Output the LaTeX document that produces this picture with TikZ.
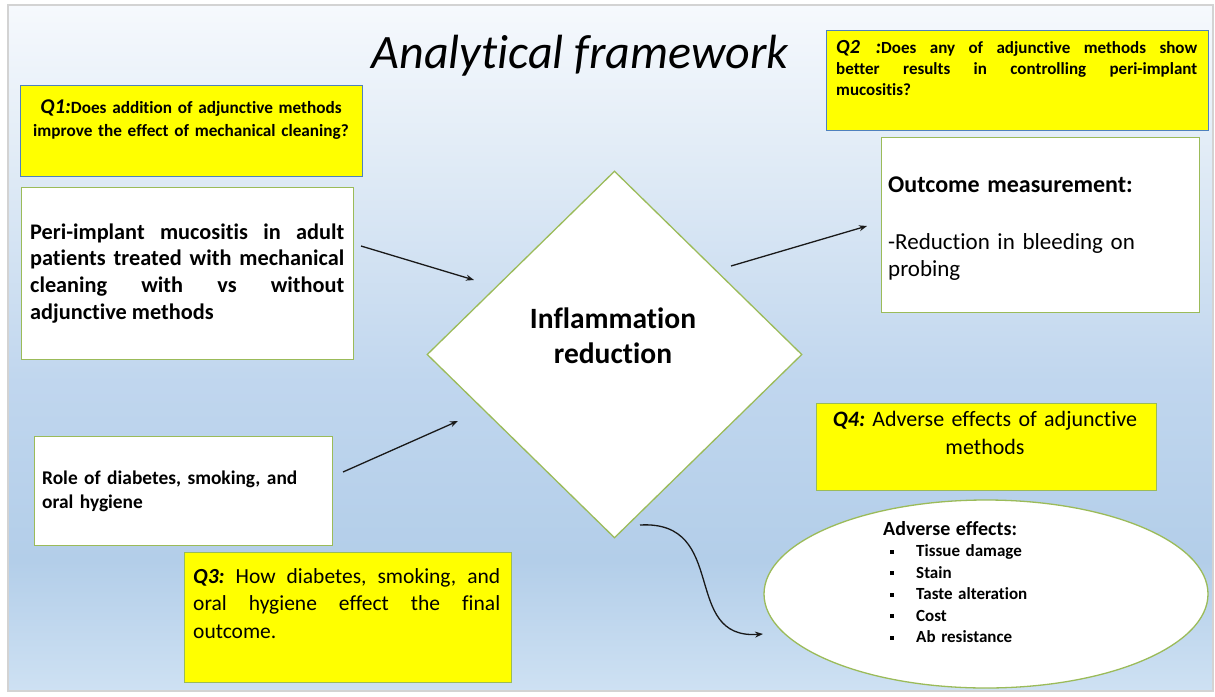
\documentclass[tikz,border=0pt]{standalone}
\usepackage{fontspec}
\setmainfont{Carlito}[RawFeature=-liga, RawFeature=-clig, RawFeature=-calt, RawFeature=-dlig]
\usepackage{tikz}
\usetikzlibrary{shapes.geometric}
\usetikzlibrary{arrows.meta}

\definecolor{qyellow}{HTML}{FFFF00}
\definecolor{qblue}{HTML}{4F81BD}
\definecolor{qgreen}{HTML}{9BBB59}
\definecolor{frameline}{HTML}{D3D3D3}
\definecolor{fadeA}{HTML}{F6F9FD}
\definecolor{fadeB}{HTML}{DDE9F5}
\definecolor{fadeC}{HTML}{C0D6EE}
\definecolor{fadeD}{HTML}{B3CEE9}
\definecolor{fadeE}{HTML}{CEE1F3}

\pgfdeclareverticalshading{panelfade}{100bp}{color(0bp)=(fadeE); color(25bp)=(fadeE); color(34.5bp)=(fadeD); color(47.5bp)=(fadeC); color(62bp)=(fadeB); color(75bp)=(fadeA); color(100bp)=(fadeA)}

\newcommand{\fsz}[2]{\fontsize{#1}{#2}\selectfont}
\newcommand{\sqbul}{\makebox[33pt][l]{\hspace{7pt}\rule[3pt]{4pt}{4pt}}}
\hyphenpenalty=10000
\exhyphenpenalty=10000
\frenchspacing

\tikzset{
  qbox/.style={draw=qblue, fill=qyellow, line width=1.3pt, anchor=north west, inner sep=0pt},
  infobox/.style={draw=qgreen, fill=white, line width=1.3pt, anchor=north west, inner sep=0pt},
  txt/.style={inner sep=0pt, anchor=base west, align=justify},
  arr/.style={line width=1.3pt, draw=black!90, -{Stealth[length=8pt,width=6pt]}}
}

\begin{document}
\begin{tikzpicture}[x=1pt, y=-1pt]
    \useasboundingbox (0,0) rectangle (1215,696);
    \fill[white] (0,0) rectangle (1215,696);
    \shadedraw[shading=panelfade, draw=frameline, line width=2.5pt] (8,5) rectangle (1213,691);

    \node[anchor=base, inner sep=0pt, font=\fsz{48}{50}\itshape] (title) at (580,68) {Analytical framework};

    % question boxes
    \node[qbox, minimum width=342pt, minimum height=91pt] (q1) at (20,85) {};
    \node[txt, text width=336pt, align=center, anchor=base, font=\fsz{17.2}{23}\bfseries] (q1txt) at (191,113)
        {{\fsz{21}{23}\itshape Q1:}Does addition of adjunctive methods\\improve the effect of mechanical cleaning?};
    \node[qbox, minimum width=382pt, minimum height=100pt] (q2) at (826,30) {};
    \node[txt, text width=361pt, font=\fsz{17}{21}\bfseries] (q2txt) at (836,53)
        {{\fsz{20}{21}\itshape Q2 :}Does any of adjunctive methods show\linebreak better results in controlling peri-implant\linebreak mucositis?};
    \node[qbox, draw=qgreen, minimum width=327pt, minimum height=130pt] (q3) at (184,552) {};
    \node[txt, text width=307pt, font=\fsz{21.5}{27.5}] (q3txt) at (193,583)
        {\textbf{\textit{Q3:}} How diabetes, smoking, and\linebreak oral hygiene effect the final\linebreak outcome.};
    \node[qbox, draw=qgreen, minimum width=340pt, minimum height=87pt] (q4) at (816,403) {};
    \node[txt, text width=330pt, align=center, anchor=base, font=\fsz{22}{28}] (q4txt) at (985,426)
        {\textbf{\textit{Q4:}} Adverse effects of adjunctive\\methods};

    % white boxes
    \node[infobox, minimum width=332pt, minimum height=172pt] (pop) at (21,187) {};
    \node[txt, text width=314pt, font=\fsz{22.3}{26.7}\bfseries] (poptxt) at (30,239)
        {Peri-implant mucositis in adult\linebreak patients treated with mechanical\linebreak cleaning with vs without\linebreak adjunctive methods};
    \node[infobox, minimum width=318pt, minimum height=175pt] (outc) at (881,137) {};
    \node[txt, text width=300pt, align=left, font=\fsz{23}{27}] (outctxt) at (888,192)
        {{\fsz{24}{27}\bfseries Outcome measurement:}\\[30pt]-Reduction in bleeding on\\probing};
    \node[infobox, minimum width=298pt, minimum height=109pt] (role) at (34,436) {};
    \node[txt, text width=280pt, align=left, font=\fsz{19.4}{24.5}\bfseries] (roletxt) at (42,484)
        {Role of diabetes, smoking, and\\oral hygiene};

    \node[diamond, draw=qgreen, fill=white, line width=1.3pt, minimum width=375pt, minimum height=367pt, inner sep=0pt] (infl) at (614.5,354.5) {};
    \node[txt, text width=250pt, align=center, anchor=base, font=\fsz{29.5}{35}\bfseries] (infltxt) at (613,328)
        {Inflammation\\reduction};

    \node[ellipse, draw=qgreen, fill=white, line width=1.3pt, minimum width=444pt, minimum height=188pt, inner sep=0pt] (adv) at (986,594) {};
    \node[txt, text width=200pt, align=left, font=\fsz{17}{21.5}\bfseries] (advtxt) at (883,535)
        {{\fsz{20}{22}Adverse effects:}\\\sqbul Tissue damage\\\sqbul Stain\\\sqbul Taste alteration\\\sqbul Cost\\\sqbul Ab resistance};

    % arrows
    \coordinate (a1s) at (361,246);
    \coordinate (a1e) at (474,280);
    \coordinate (a2s) at (343,472);
    \coordinate (a2e) at (458,421);
    \coordinate (a3s) at (731,266);
    \coordinate (a3e) at (867,226);
    \coordinate (a4s) at (640,525);
    \coordinate (a4e) at (763,634);
    \draw[arr] (a1s) -- (a1e);
    \draw[arr] (a2s) -- (a2e);
    \draw[arr] (a3s) -- (a3e);
    \draw[arr] (a4s) .. controls (730,520) and (680,640) .. (a4e);
\end{tikzpicture}
\end{document}
